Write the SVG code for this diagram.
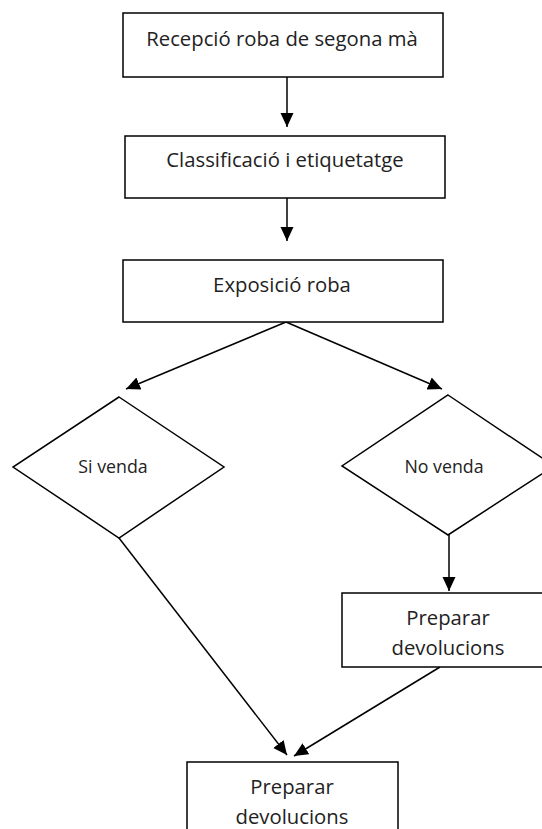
<svg xmlns="http://www.w3.org/2000/svg" width="542" height="829" viewBox="0 0 542 829">
<style>
.box{fill:#fff;stroke:#000;stroke-width:1.5}
.t{font-family:"Open Sans","Liberation Sans",sans-serif;font-size:20.3px;fill:#222;text-anchor:middle}
.d{font-family:"Open Sans","Liberation Sans",sans-serif;font-size:17.8px;fill:#222;text-anchor:middle}
.c{fill:none;stroke:#000;stroke-width:1.5}
</style>
<defs>
<marker id="ah" markerUnits="userSpaceOnUse" markerWidth="16" markerHeight="14" refX="14" refY="6.5" orient="auto">
<path d="M0,0 L14,6.5 L0,13 Z" fill="#000"/>
</marker>
</defs>
<rect width="542" height="829" fill="#fff"/>
<g id="connectors">
<line class="c" x1="287" y1="77" x2="287" y2="127" marker-end="url(#ah)"/>
<line class="c" x1="287" y1="198" x2="287" y2="241" marker-end="url(#ah)"/>
<line class="c" x1="286" y1="322" x2="126" y2="389" marker-end="url(#ah)"/>
<line class="c" x1="286" y1="322" x2="442" y2="389" marker-end="url(#ah)"/>
<line class="c" x1="449" y1="535" x2="449" y2="591" marker-end="url(#ah)"/>
<line class="c" x1="119" y1="538" x2="287" y2="755" marker-end="url(#ah)"/>
<line class="c" x1="440" y1="667" x2="294" y2="756" marker-end="url(#ah)"/>
</g>
<g id="n1"><rect class="box" x="123" y="13" width="320" height="64"/><text class="t" x="282" y="46">Recepció roba de segona mà</text></g>
<g id="n2"><rect class="box" x="125" y="136" width="320" height="62"/><text class="t" x="285" y="167">Classificació i etiquetatge</text></g>
<g id="n3"><rect class="box" x="123" y="260" width="320" height="62"/><text class="t" x="282" y="292">Exposició roba</text></g>
<g id="n4"><polygon class="box" points="119,397 224,467 119,538 13,467"/><text class="d" x="113" y="473">Si venda</text></g>
<g id="n5"><polygon class="box" points="448,395 554,466 448,535 342,466"/><text class="d" x="444" y="473">No venda</text></g>
<g id="n6"><rect class="box" x="342" y="593" width="212" height="74"/><text class="t" x="448" y="625">Preparar</text><text class="t" x="448" y="655">devolucions</text></g>
<g id="n7"><rect class="box" x="187" y="762" width="211" height="80"/><text class="t" x="292" y="794">Preparar</text><text class="t" x="292" y="824">devolucions</text></g>
</svg>
